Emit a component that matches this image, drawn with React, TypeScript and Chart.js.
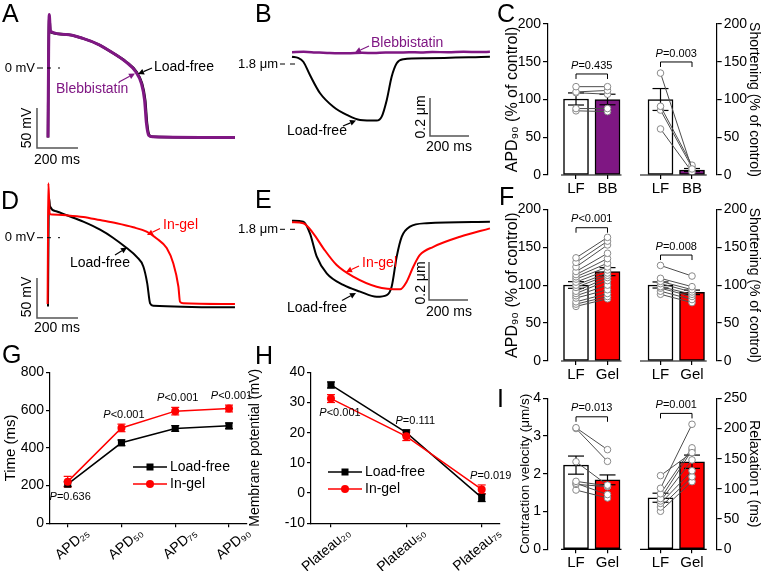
import React, { useEffect, useRef } from "react";
import { Chart, registerables } from "chart.js";

Chart.register(...registerables);

const PW = 762;
const PH = 571;
const FONT = 'Arial, "Liberation Sans", Helvetica, sans-serif';
const PURPLE = "#7f1783";
const RED = "#ff0000";
const GREY = "#4d4d4d";

Chart.defaults.font.family = FONT;
Chart.defaults.color = "#000";

// ===================== DATA =====================
// Panel A – action potentials (time from upstroke, ms ; membrane potential, mV)
const aLoadFreeT = [0, 3, 6, 12, 90, 170, 250, 315, 380, 432, 458, 474, 483, 494, 512, 912];
const aLoadFreeV = [-87, 20, 66, 45, 42, 37, 29, 19, 8, -5, -19, -40, -69, -84, -86, -87];
const aBlebbT = [0, 3, 6, 12, 90, 170, 250, 315, 378, 429, 455, 471, 480, 491, 510, 912];
const aBlebbV = [-87, 20, 67, 46, 42, 37, 29, 19, 8, -5, -19, -40, -69, -84, -86, -87];

// Panel B – sarcomere length (ms ; µm)
const bLoadFreeT = [0, 31, 58, 92, 144, 212, 281, 349, 434, 460, 486, 511, 537, 571, 691, 1015];
const bLoadFreeSL = [1.838, 1.832, 1.812, 1.742, 1.646, 1.575, 1.532, 1.505, 1.502, 1.523, 1.611, 1.733, 1.804, 1.825, 1.83, 1.838];
const bBlebbT = [0, 60, 120, 180, 240, 300, 360, 420, 480, 540, 600, 660, 720, 800, 880, 960, 1015];
const bBlebbSL = [1.862, 1.864, 1.861, 1.858, 1.856, 1.857, 1.859, 1.858, 1.861, 1.86, 1.862, 1.861, 1.863, 1.862, 1.864, 1.863, 1.864];

// Panel D – action potentials
const dLoadFreeT = [0, 3, 5, 10, 40, 91, 172, 254, 317, 384, 433, 465, 484, 498, 514, 912];
const dLoadFreeV = [-86, 20, 50, 39, 33, 28, 20, 10, 0, -13, -24, -36, -57, -82, -85, -87];
const dInGelT = [-2, 0, 2, 8, 20, 91, 172, 254, 335, 416, 481, 530, 579, 611, 636, 644, 660, 912];
const dInGelV = [-83, 0, 68, 30, 29, 28, 26, 22, 18, 13, 7.5, -1, -13, -32, -61, -80, -82, -83];

// Panel E – sarcomere length
const eLoadFreeT = [0, 58, 92, 127, 178, 263, 349, 434, 486, 511, 537, 563, 605, 691, 1015];
const eLoadFreeSL = [1.845, 1.84, 1.779, 1.656, 1.568, 1.507, 1.472, 1.445, 1.454, 1.498, 1.656, 1.761, 1.814, 1.832, 1.84];
const eInGelT = [0, 58, 109, 161, 229, 314, 434, 554, 588, 622, 656, 725, 862, 1015];
const eInGelSL = [1.837, 1.832, 1.779, 1.7, 1.612, 1.551, 1.498, 1.484, 1.524, 1.603, 1.665, 1.708, 1.761, 1.805];

// Panel C
const cLabels = ["LF", "BB"];
const cApdMean = [100.7, 100];
const cApdSem = [8, 7];
const cApdLF = [117, 110, 109, 88, 85];
const cApdBB = [117, 112, 107, 88, 84];
const cApdP = "=0.435";
const cShortMean = [100, 6.6];
const cShortSem = [14.5, 2];
const cShortLF = [135, 91, 86, 61];
const cShortBB = [8, 13, 10, 4];
const cShortP = "=0.003";

// Panel F
const fLabels = ["LF", "Gel"];
const fApdMean = [100.2, 117.8];
const fApdSem = [4.4, 5.3];
const fApdLF = [136, 130, 124, 118, 114, 111, 108, 104, 100, 97, 92, 89, 86, 83, 78, 75, 72];
const fApdGel = [163, 158, 153, 142, 135, 129, 124, 120, 116, 113, 110, 106, 100, 94, 89, 85, 82];
const fApdP = "<0.001";
const fShortMean = [100.2, 90.5];
const fShortSem = [4, 3];
const fShortLF = [126, 109, 105, 102, 98, 96, 92, 88];
const fShortGel = [112, 98, 94, 91, 88, 85, 81, 77];
const fShortP = "=0.008";

// Panel I
const iLabels = ["LF", "Gel"];
const iVelMean = [2.23, 1.84];
const iVelSem = [0.24, 0.13];
const iVelLF = [3.22, 3.2, 2.32, 1.8, 1.75, 1.72, 1.57];
const iVelGel = [2.64, 2.33, 1.7, 1.68, 1.45, 1.66, 1.36];
const iVelP = "=0.013";
const iTauMean = [85.4, 145];
const iTauSem = [7.5, 11];
const iTauLF = [101, 122, 92, 84, 80, 76, 70, 63];
const iTauGel = [207, 160, 168, 164, 148, 130, 120, 112];
const iTauP = "=0.001";

// Panel G
const gCategories = ["APD₂₅", "APD₅₀", "APD₇₅", "APD₉₀"];
const gLoadFree = [208, 427, 503, 517];
const gLoadFreeSem = [12, 15, 15, 15];
const gInGel = [221, 506, 595, 609];
const gInGelSem = [28, 20, 20, 18];
const gP = ["=0.636", "<0.001", "<0.001", "<0.001"];

// Panel H
const hCategories = ["Plateau₂₀", "Plateau₅₀", "Plateau₇₅"];
const hLoadFree = [35.8, 20.0, -1.5];
const hLoadFreeSem = [1.0, 0.9, 1.3];
const hInGel = [31.3, 18.8, 1.2];
const hInGelSem = [1.3, 1.4, 1.5];
const hP = ["<0.001", "=0.111", "=0.019"];

// ===================== DRAW HELPERS =====================
type Ctx = CanvasRenderingContext2D;
const fnt = (size: number, italic = false) => `${italic ? "italic " : ""}${size}px ${FONT}`;

function drawText(ctx: Ctx, s: string, x: number, y: number, o: { size?: number; color?: string; align?: CanvasTextAlign; rot?: number } = {}) {
  ctx.save();
  ctx.translate(x, y);
  if (o.rot) ctx.rotate(o.rot);
  ctx.font = fnt(o.size ?? 14);
  ctx.fillStyle = o.color ?? "#000";
  ctx.textAlign = o.align ?? "left";
  ctx.textBaseline = "middle";
  ctx.fillText(s, 0, 0);
  ctx.restore();
}

function drawP(ctx: Ctx, rest: string, cx: number, cy: number, size = 11) {
  ctx.save();
  ctx.textBaseline = "middle";
  ctx.fillStyle = "#000";
  ctx.textAlign = "left";
  ctx.font = fnt(size, true);
  const wp = ctx.measureText("P").width;
  ctx.font = fnt(size);
  const wr = ctx.measureText(rest).width;
  const x0 = cx - (wp + wr) / 2;
  ctx.font = fnt(size, true);
  ctx.fillText("P", x0, cy);
  ctx.font = fnt(size);
  ctx.fillText(rest, x0 + wp, cy);
  ctx.restore();
}

function seg(ctx: Ctx, p: number[], color = "#000", w = 1, dash: number[] = []) {
  ctx.save();
  ctx.beginPath();
  ctx.strokeStyle = color;
  ctx.lineWidth = w;
  ctx.setLineDash(dash);
  ctx.moveTo(p[0], p[1]);
  for (let i = 2; i < p.length; i += 2) ctx.lineTo(p[i], p[i + 1]);
  ctx.stroke();
  ctx.restore();
}

function arrow(ctx: Ctx, x1: number, y1: number, x2: number, y2: number, color: string) {
  const a = Math.atan2(y2 - y1, x2 - x1);
  const L = 6, Wd = 3;
  const bx = x2 - L * Math.cos(a), by = y2 - L * Math.sin(a);
  seg(ctx, [x1, y1, bx, by], color, 1.2);
  ctx.save();
  ctx.fillStyle = color;
  ctx.beginPath();
  ctx.moveTo(x2, y2);
  ctx.lineTo(bx + Wd * Math.sin(a), by - Wd * Math.cos(a));
  ctx.lineTo(bx - Wd * Math.sin(a), by + Wd * Math.cos(a));
  ctx.closePath();
  ctx.fill();
  ctx.restore();
}

function scaleBar(ctx: Ctx, ch: any, t0: number, v0: number, dt: number, dv: number) {
  const xs = ch.scales.x, ys = ch.scales.y;
  const X0 = xs.getPixelForValue(t0), Y0 = ys.getPixelForValue(v0);
  const X1 = xs.getPixelForValue(t0 + dt), Y1 = ys.getPixelForValue(v0 + dv);
  seg(ctx, [X0, Y1, X0, Y0, X1, Y0], "#555", 1.5);
}

function letter(ctx: Ctx, s: string, x: number, cy: number) {
  ctx.save();
  ctx.font = fnt(25);
  ctx.fillStyle = "#000";
  ctx.textAlign = "left";
  ctx.textBaseline = "alphabetic";
  ctx.fillText(s, x, cy + 9);
  ctx.restore();
}

const pts = (xs: number[], ys: number[]) => xs.map((x, i) => ({ x, y: ys[i] }));
const baseOpts = {
  animation: false as const,
  responsive: false,
  events: [] as any[],
  plugins: { legend: { display: false }, tooltip: { enabled: false } },
};

// ===================== TRACE PANELS =====================
interface Trace { t: number[]; v: number[]; color: string; width: number }
interface Map { x0: number; kx: number; y0: number; ky: number }

function traceChart(cv: HTMLCanvasElement, traces: Trace[], m: Map, draw: (ctx: Ctx, ch: any) => void) {
  return new Chart(cv, {
    type: "line",
    data: {
      datasets: traces.map((tr) => ({
        data: pts(tr.t, tr.v),
        borderColor: tr.color,
        borderWidth: tr.width,
        pointRadius: 0,
        cubicInterpolationMode: "monotone" as const,
        fill: false,
      })),
    },
    options: {
      ...baseOpts,
      layout: { padding: 0 },
      scales: {
        x: { type: "linear", display: false, min: -m.x0 / m.kx, max: (PW - m.x0) / m.kx },
        y: { type: "linear", display: false, min: (m.y0 - PH) / m.ky, max: m.y0 / m.ky },
      },
    } as any,
    plugins: [{ id: "ov", afterDraw: (ch: any) => draw(ch.ctx, ch) }],
  });
}

const mapA: Map = { x0: 48, kx: 0.205, y0: 68, ky: 0.8 };
const mapD: Map = { x0: 48, kx: 0.205, y0: 237.7, ky: 0.8 };
const mapB: Map = { x0: 292, kx: 0.195, y0: 64 + 1.8 * 190, ky: 190 };
const mapE: Map = { x0: 292, kx: 0.195, y0: 229.3 + 1.8 * 190, ky: 190 };

function zeroMark(ctx: Ctx, label: string, xr: number, y: number, xs: number[]) {
  drawText(ctx, label, xr, y, { size: 13, align: "right" });
  for (let i = 0; i < xs.length; i += 2) seg(ctx, [xs[i], y, xs[i + 1], y], "#000", 1);
}

function drawA(ctx: Ctx, ch: any) {
  zeroMark(ctx, "0 mV", 35, 68, [37, 43, 47, 51, 58, 60]);
  drawText(ctx, "Load-free", 154, 67);
  arrow(ctx, 152, 68, 138, 74, "#000");
  drawText(ctx, "Blebbistatin", 56, 89, { color: PURPLE });
  arrow(ctx, 119, 82, 135, 73.5, PURPLE);
  scaleBar(ctx, ch, -53.7, -100, 200, 50);
  drawText(ctx, "50 mV", 27.5, 128, { rot: -Math.PI / 2, align: "center" });
  drawText(ctx, "200 ms", 57, 160, { align: "center" });
  letter(ctx, "A", 2, 12.5);
  letter(ctx, "B", 255, 12.5);
  letter(ctx, "C", 497, 12.5);
  letter(ctx, "D", 1, 200);
  letter(ctx, "E", 255, 199);
  letter(ctx, "F", 499, 196);
  letter(ctx, "G", 2, 354);
  letter(ctx, "H", 255, 355);
  letter(ctx, "I", 497, 398);
}

function drawB(ctx: Ctx, ch: any) {
  zeroMark(ctx, "1.8 μm", 278, 64, [280, 285, 290, 295]);
  drawText(ctx, "Blebbistatin", 371, 43, { color: PURPLE });
  arrow(ctx, 369, 46, 355, 52.5, PURPLE);
  drawText(ctx, "Load-free", 287, 131.5);
  arrow(ctx, 343, 126, 356, 120.5, "#000");
  scaleBar(ctx, ch, 707.7, 1.421, 200, 0.2);
  drawText(ctx, "0.2 μm", 421, 117, { rot: -Math.PI / 2, align: "center" });
  drawText(ctx, "200 ms", 449, 147, { align: "center" });
}

function drawD(ctx: Ctx, ch: any) {
  zeroMark(ctx, "0 mV", 35, 237.7, [37, 43, 47, 51, 58, 60]);
  drawText(ctx, "In-gel", 163, 225, { color: RED });
  arrow(ctx, 160, 228.5, 147, 235, RED);
  drawText(ctx, "Load-free", 70, 263);
  arrow(ctx, 115, 255, 127, 247.5, "#000");
  scaleBar(ctx, ch, -53.7, -100.4, 200, 50);
  drawText(ctx, "50 mV", 27.5, 297, { rot: -Math.PI / 2, align: "center" });
  drawText(ctx, "200 ms", 57, 328, { align: "center" });
}

function drawE(ctx: Ctx, ch: any) {
  zeroMark(ctx, "1.8 μm", 278, 229.3, [280, 285, 290, 295]);
  drawText(ctx, "In-gel", 362, 263, { color: RED });
  arrow(ctx, 359, 266, 346, 272, RED);
  drawText(ctx, "Load-free", 287, 308);
  arrow(ctx, 342, 300.5, 356, 293, "#000");
  scaleBar(ctx, ch, 702.6, 1.428, 200, 0.2);
  drawText(ctx, "0.2 μm", 421, 283, { rot: -Math.PI / 2, align: "center" });
  drawText(ctx, "200 ms", 449, 312, { align: "center" });
}

// ===================== BAR PANELS =====================
interface BarPanel {
  area: [number, number, number, number];
  side: "left" | "right";
  wy?: number;
  yMax: number;
  yStep: number;
  title: string;
  titleSize?: number;
  labels: string[];
  means: number[];
  sems: number[];
  fills: string[];
  a: number[];
  b: number[];
  xRange: [number, number];
  base: [number, number];
  bracketY: number;
  p: string;
}

function barPanel(cv: HTMLCanvasElement, p: BarPanel) {
  const [l, t, r, b] = p.area;
  const wy = p.side === "left" ? (p.wy ?? 45) : PW - r;
  const datasets: any[] = [
    {
      type: "bar",
      data: p.means.map((m, i) => ({ x: i, y: m })),
      backgroundColor: p.fills,
      borderColor: "#000",
      borderWidth: 1.5,
      borderSkipped: false,
      barThickness: 25,
      order: 5,
    },
  ];
  p.a.forEach((va, i) =>
    datasets.push({
      type: "line",
      data: [{ x: 0, y: va }, { x: 1, y: p.b[i] }],
      borderColor: GREY,
      borderWidth: 1,
      pointRadius: 3.3,
      pointBackgroundColor: "#fff",
      pointBorderColor: "#8a8a8a",
      pointBorderWidth: 1,
      fill: false,
      order: 1,
    })
  );
  return new Chart(cv, {
    type: "bar",
    data: { datasets },
    options: {
      ...baseOpts,
      layout: {
        padding: {
          left: p.side === "left" ? l - wy : l,
          right: p.side === "left" ? PW - r : 0,
          top: t,
          bottom: PH - b - 22,
        },
      },
      scales: {
        x: {
          type: "linear",
          min: p.xRange[0],
          max: p.xRange[1],
          offset: false,
          afterBuildTicks: (s: any) => { s.ticks = p.labels.map((_, i) => ({ value: i })); },
          afterFit: (s: any) => { s.height = 22; },
          ticks: {
            callback: (v: any) => p.labels[Math.round(Number(v))] ?? "",
            font: { size: 15 },
            color: "#000",
            padding: 1,
            autoSkip: false,
            maxRotation: 0,
            minRotation: 0,
          },
          grid: { display: true, offset: false, drawOnChartArea: false, drawTicks: true, tickLength: 4, color: "#000", lineWidth: 1.2 },
          border: { display: false },
        },
        y: {
          type: "linear",
          position: p.side,
          min: 0,
          max: p.yMax,
          afterFit: (s: any) => { s.width = wy; },
          ticks: { stepSize: p.yStep, font: { size: 14 }, color: "#000", padding: 2 },
          grid: { display: true, drawOnChartArea: false, drawTicks: true, tickLength: 5, color: "#000", lineWidth: 1.2 },
          border: { display: true, color: "#000", width: 1.2 },
          title: { display: true, text: p.title, font: { size: p.titleSize ?? 16 }, color: "#000", padding: 0 },
        },
      },
    } as any,
    plugins: [
      {
        id: "errs",
        afterDatasetDraw: (ch: any, args: any) => {
          if (args.index !== 0) return;
          const ctx = ch.ctx, xs = ch.scales.x, ys = ch.scales.y;
          p.means.forEach((m, i) => {
            const x = xs.getPixelForValue(i);
            const y1 = ys.getPixelForValue(m + p.sems[i]);
            const y2 = ys.getPixelForValue(m - p.sems[i]);
            seg(ctx, [x, y1, x, y2], "#000", 1.2);
            seg(ctx, [x - 8, y1, x + 8, y1], "#000", 1.2);
            seg(ctx, [x - 8, y2, x + 8, y2], "#000", 1.2);
          });
        },
        afterDraw: (ch: any) => {
          const ctx = ch.ctx, xs = ch.scales.x, ys = ch.scales.y;
          const yb = ys.getPixelForValue(0);
          seg(ctx, [xs.getPixelForValue(p.base[0]), yb, xs.getPixelForValue(p.base[1]), yb], "#000", 1.2);
          const yk = ys.getPixelForValue(p.bracketY);
          const x0 = xs.getPixelForValue(0), x1 = xs.getPixelForValue(1);
          seg(ctx, [x0, yk + 5, x0, yk, x1, yk, x1, yk + 5], "#000", 1);
          drawP(ctx, p.p, (x0 + x1) / 2, yk - 8.5, 11);
        },
      },
    ],
  });
}

// ===================== LINE PANELS (G, H) =====================
interface LinePanel {
  area: [number, number, number, number];
  wy: number;
  title: string;
  titleSize: number;
  yMin: number;
  yMax: number;
  yStep: number;
  cats: string[];
  labelDx: number;
  xRange: [number, number];
  lf: number[];
  lfSem: number[];
  gel: number[];
  gelSem: number[];
  pl: string[];
  pBelow: boolean[];
  pdx: number;
  legend: [number, number, number];
}

function linePanel(cv: HTMLCanvasElement, p: LinePanel) {
  const [l, t, r, b] = p.area;
  const mk = (vals: number[]) => vals.map((v, i) => ({ x: i, y: v }));
  return new Chart(cv, {
    type: "line",
    data: {
      datasets: [
        { data: mk(p.gel), borderColor: RED, backgroundColor: RED, borderWidth: 1.5, pointStyle: "circle", pointRadius: 4, pointBorderWidth: 0, fill: false },
        { data: mk(p.lf), borderColor: "#000", backgroundColor: "#000", borderWidth: 1.5, pointStyle: "rect", pointRadius: 5, pointBorderWidth: 0, fill: false },
      ],
    },
    options: {
      ...baseOpts,
      layout: { padding: { left: l - p.wy, right: PW - r, top: t, bottom: 0 } },
      scales: {
        x: {
          type: "linear",
          min: p.xRange[0],
          max: p.xRange[1],
          afterBuildTicks: (s: any) => { s.ticks = p.cats.map((_, i) => ({ value: i })); },
          afterFit: (s: any) => { s.height = PH - b; },
          ticks: { display: false, autoSkip: false },
          grid: { display: true, drawOnChartArea: false, drawTicks: true, tickLength: 4, color: "#000", lineWidth: 1.2 },
          border: { display: true, color: "#000", width: 1.2 },
        },
        y: {
          type: "linear",
          min: p.yMin,
          max: p.yMax,
          afterFit: (s: any) => { s.width = p.wy; },
          ticks: { stepSize: p.yStep, font: { size: 14 }, color: "#000", padding: 2 },
          grid: { display: true, drawOnChartArea: false, drawTicks: true, tickLength: 4, color: "#000", lineWidth: 1.2 },
          border: { display: true, color: "#000", width: 1.2 },
          title: { display: true, text: p.title, font: { size: p.titleSize }, color: "#000", padding: 0 },
        },
      },
    } as any,
    plugins: [
      {
        id: "errs",
        beforeDatasetsDraw: (ch: any) => {
          const ctx = ch.ctx, xs = ch.scales.x, ys = ch.scales.y;
          const eb = (vals: number[], sems: number[], color: string) =>
            vals.forEach((v, i) => {
              const x = xs.getPixelForValue(i);
              const y1 = ys.getPixelForValue(v + sems[i]);
              const y2 = ys.getPixelForValue(v - sems[i]);
              seg(ctx, [x, y1, x, y2], color, 1.2);
              seg(ctx, [x - 4, y1, x + 4, y1], color, 1.2);
              seg(ctx, [x - 4, y2, x + 4, y2], color, 1.2);
            });
          eb(p.lf, p.lfSem, "#000");
          eb(p.gel, p.gelSem, RED);
        },
        afterDraw: (ch: any) => {
          const ctx = ch.ctx, xs = ch.scales.x, ys = ch.scales.y;
          // rotated category labels
          const axisY = ch.chartArea.bottom;
          p.cats.forEach((s, i) => {
            const x = xs.getPixelForValue(i);
            drawText(ctx, s, x + p.labelDx, axisY + 8, { size: 14, align: "right", rot: -40 * Math.PI / 180 });
          });
          p.pl.forEach((s, i) => {
            const x = xs.getPixelForValue(i) + p.pdx;
            if (p.pBelow[i]) {
              const lo = Math.min(p.lf[i] - p.lfSem[i], p.gel[i] - p.gelSem[i]);
              drawP(ctx, s, x, ys.getPixelForValue(lo) + 10, 11);
            } else {
              const hi = Math.max(p.lf[i] + p.lfSem[i], p.gel[i] + p.gelSem[i]);
              drawP(ctx, s, x, ys.getPixelForValue(hi) - 9, 11);
            }
          });
          const [lx, y1, y2] = p.legend;
          seg(ctx, [lx, y1, lx + 34, y1], "#000", 1.5);
          ctx.fillStyle = "#000";
          ctx.fillRect(lx + 17 - 3.5, y1 - 3.5, 7, 7);
          drawText(ctx, "Load-free", lx + 37, y1, { size: 14 });
          seg(ctx, [lx, y2, lx + 34, y2], RED, 1.5);
          ctx.beginPath();
          ctx.fillStyle = RED;
          ctx.arc(lx + 17, y2, 4, 0, Math.PI * 2);
          ctx.fill();
          drawText(ctx, "In-gel", lx + 37, y2, { size: 14 });
        },
      },
    ],
  });
}

// ===================== APP =====================
const N = 12;

export default function App() {
  const refs = useRef<(HTMLCanvasElement | null)[]>([]);
  useEffect(() => {
    const c = refs.current as HTMLCanvasElement[];
    const charts: Chart[] = [];
    charts.push(
      traceChart(c[0], [
        { t: aBlebbT, v: aBlebbV, color: PURPLE, width: 3 },
        { t: aLoadFreeT, v: aLoadFreeV, color: "#000", width: 2.5 },
      ], mapA, drawA)
    );
    charts.push(
      traceChart(c[1], [
        { t: bBlebbT, v: bBlebbSL, color: PURPLE, width: 2.5 },
        { t: bLoadFreeT, v: bLoadFreeSL, color: "#000", width: 2 },
      ], mapB, drawB)
    );
    charts.push(
      traceChart(c[2], [
        { t: dInGelT, v: dInGelV, color: RED, width: 2 },
        { t: dLoadFreeT, v: dLoadFreeV, color: "#000", width: 2 },
      ], mapD, drawD)
    );
    charts.push(
      traceChart(c[3], [
        { t: eInGelT, v: eInGelSL, color: RED, width: 2 },
        { t: eLoadFreeT, v: eLoadFreeSL, color: "#000", width: 2 },
      ], mapE, drawE)
    );
    const leftX: [number, number] = [-0.889, 1.46];
    const rightX: [number, number] = [-0.651, 1.784];
    const leftBase: [number, number] = [-0.476, 1.444];
    const rightBase: [number, number] = [-0.651, 1.467];
    const apdTitle = "APD₉₀ (% of control)";
    const shortTitle = "Shortening (% of control)";
    charts.push(barPanel(c[4], { area: [548, 24, 622, 175], side: "left", yMax: 200, yStep: 50, title: apdTitle, labels: cLabels, means: cApdMean, sems: cApdSem, fills: ["#fff", PURPLE], a: cApdLF, b: cApdBB, xRange: leftX, base: leftBase, bracketY: 133.8, p: cApdP }));
    charts.push(barPanel(c[5], { area: [640, 24, 716.7, 175], side: "right", yMax: 200, yStep: 50, title: shortTitle, titleSize: 14, labels: cLabels, means: cShortMean, sems: cShortSem, fills: ["#fff", PURPLE], a: cShortLF, b: cShortBB, xRange: rightX, base: rightBase, bracketY: 149.7, p: cShortP }));
    charts.push(barPanel(c[6], { area: [548, 209.3, 622, 361], side: "left", yMax: 200, yStep: 50, title: apdTitle, labels: fLabels, means: fApdMean, sems: fApdSem, fills: ["#fff", RED], a: fApdLF, b: fApdGel, xRange: leftX, base: leftBase, bracketY: 175.7, p: fApdP }));
    charts.push(barPanel(c[7], { area: [640, 209.3, 716.7, 361], side: "right", yMax: 200, yStep: 50, title: shortTitle, titleSize: 14, labels: fLabels, means: fShortMean, sems: fShortSem, fills: ["#fff", RED], a: fShortLF, b: fShortGel, xRange: rightX, base: rightBase, bracketY: 139.7, p: fShortP }));
    charts.push(barPanel(c[8], { area: [548, 398.3, 622, 549.3], side: "left", wy: 31, yMax: 4, yStep: 1, title: "Contraction velocity (μm/s)", titleSize: 13.5, labels: iLabels, means: iVelMean, sems: iVelSem, fills: ["#fff", RED], a: iVelLF, b: iVelGel, xRange: leftX, base: leftBase, bracketY: 3.51, p: iVelP }));
    charts.push(barPanel(c[9], { area: [640, 398.3, 716.7, 549.3], side: "right", yMax: 250, yStep: 50, title: "Relaxation τ (ms)", titleSize: 14, labels: iLabels, means: iTauMean, sems: iTauSem, fills: ["#fff", RED], a: iTauLF, b: iTauGel, xRange: rightX, base: rightBase, bracketY: 225, p: iTauP }));
    charts.push(linePanel(c[10], { area: [50, 372.5, 247, 523.3], wy: 48, title: "Time (ms)", titleSize: 15, yMin: 0, yMax: 800, yStep: 200, cats: gCategories, labelDx: 20, xRange: [-0.329, 3.335], lf: gLoadFree, lfSem: gLoadFreeSem, gel: gInGel, gelSem: gInGelSem, pl: gP, pBelow: [true, false, false, false], pdx: 2.5, legend: [133, 467, 484] }));
    charts.push(linePanel(c[11], { area: [311, 372.3, 500, 523.3], wy: 64, title: "Membrane potential (mV)", titleSize: 14, yMin: -10, yMax: 40, yStep: 10, cats: hCategories, labelDx: 18, xRange: [-0.265, 2.243], lf: hLoadFree, lfSem: hLoadFreeSem, gel: hInGel, gelSem: hInGelSem, pl: hP, pBelow: [true, false, false], pdx: 9, legend: [328, 472, 489] }));
    return () => charts.forEach((ch) => ch.destroy());
  }, []);

  return (
    <div style={{ position: "fixed", left: 0, top: 0, width: PW, height: PH, background: "#fff", overflow: "hidden" }}>
      {Array.from({ length: N }).map((_, i) => (
        <canvas
          key={i}
          ref={(el) => { refs.current[i] = el; }}
          width={PW}
          height={PH}
          style={{ position: "absolute", left: 0, top: 0, width: PW, height: PH }}
        />
      ))}
    </div>
  );
}
